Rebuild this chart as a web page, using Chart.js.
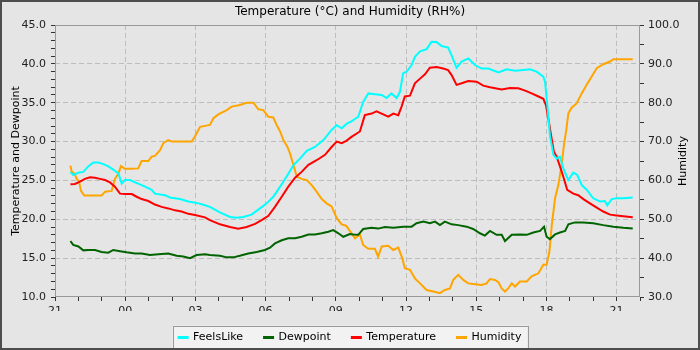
<!DOCTYPE html>
<html>
<head>
<meta charset="utf-8">
<title>Temperature and Humidity</title>
<script src="https://cdn.jsdelivr.net/npm/chart.js@4.4.1/dist/chart.umd.min.js"></script>
<style>
    body { margin: 0; background: #e5e5e5; }
    #wrap { position: relative; width: 700px; height: 350px; overflow: hidden; background: #e5e5e5; }
    #wrap canvas { position: absolute; left: 0; top: 0; }
    #frame { position: absolute; left: 0; top: 0; width: 700px; height: 350px; box-sizing: border-box; border: 2px solid #4d4d4d; pointer-events: none; }
</style>
</head>
<body>
<div id="wrap">
    <canvas id="chart" width="700" height="353"></canvas>
    <div id="frame"></div>
</div>
<script>
// hours counted from 21:00 on the first day
const xTickLabels = ["21", "00", "03", "06", "09", "12", "15", "18", "21"];

const feelsHours = [0.66, 0.78, 1.0, 1.21, 1.42, 1.64, 1.85, 2.07, 2.28, 2.49, 2.71, 2.85, 2.99, 3.21, 3.42, 3.63, 3.85, 4.13, 4.27, 4.7, 4.91, 5.34, 5.7, 6.13, 6.41,
    6.62, 7.05, 7.48, 7.76, 8.05, 8.4, 8.76, 9.05, 9.33, 9.6, 9.9, 10.2, 10.47, 10.76, 11.11, 11.47, 11.82, 12.04, 12.25, 12.47,
    12.67, 12.96, 13.17, 13.39, 13.67, 13.96, 14.17, 14.38, 14.6, 14.74, 14.88, 15.03, 15.24, 15.38, 15.6, 15.88, 16.09, 16.31, 16.52, 16.8, 16.95, 17.16, 17.38, 17.66, 17.95, 18.23, 18.52,
    18.95, 19.3, 19.66, 20.01, 20.3, 20.58, 20.87, 20.94, 21.04, 21.15, 21.3, 21.44, 21.58, 21.72, 21.94, 22.15, 22.32, 22.51, 22.72, 23.0, 23.29, 23.5, 23.6, 23.79, 24.0, 24.29, 24.69];
const feelsValues = [26.1, 25.7, 26.0, 26.1, 26.8, 27.3, 27.3, 27.1, 26.8, 26.4, 25.9, 24.6, 25.05, 25.05, 24.75, 24.5, 24.2, 23.8, 23.3, 23.1, 22.8, 22.6, 22.3, 22.05, 21.8,
    21.6, 20.9, 20.3, 20.2, 20.3, 20.6, 21.4, 22.05, 22.9, 24.1, 25.5, 27.0, 27.8, 28.8, 29.3, 30.2, 31.5, 32.1, 31.7, 32.3,
    32.6, 33.2, 35.1, 36.2, 36.1, 36.0, 35.6, 36.2, 35.6, 36.4, 38.8, 39.0, 39.85, 40.9, 41.6, 41.9, 42.85, 42.8, 42.3, 42.1, 41.1, 39.5, 40.3, 40.7, 39.85, 39.4, 39.4,
    38.9, 39.3, 39.1, 39.2, 39.3, 39.0, 38.35, 37.7, 34.7, 30.8, 28.3, 27.8, 28.05, 26.55, 25.05, 26.0, 25.7, 24.4, 23.8, 22.7, 22.3, 22.35, 21.8, 22.6, 22.7, 22.7, 22.8];

const dewHours = [0.66, 0.78, 1.0, 1.21, 1.42, 1.71, 1.99, 2.28, 2.49, 2.78, 3.06, 3.42, 3.7, 4.06, 4.42, 4.84, 5.2, 5.48, 5.77, 6.05, 6.41,
    6.62, 7.05, 7.34, 7.62, 7.9, 8.26, 8.62, 8.97, 9.19, 9.4, 9.69, 9.97, 10.26, 10.54, 10.83, 11.11, 11.4, 11.68, 11.89, 12.11, 12.32, 12.6,
    12.75, 12.96, 13.17, 13.53, 13.81, 14.1, 14.46, 14.88, 15.24, 15.45, 15.74, 16.02, 16.24, 16.45, 16.66, 16.95, 17.23, 17.59, 17.87, 18.16, 18.37, 18.59,
    18.87, 19.09, 19.23, 19.52, 19.87, 20.16, 20.44, 20.73, 20.9, 21.01, 21.15, 21.37, 21.58, 21.8, 21.94, 22.22, 22.58, 23.0, 23.43, 23.86, 24.29, 24.69];
const dewValues = [17.2, 16.7, 16.5, 16.0, 16.05, 16.05, 15.8, 15.7, 16.05, 15.9, 15.75, 15.6, 15.6, 15.4, 15.5, 15.6, 15.3, 15.2, 15.0, 15.4, 15.5,
    15.4, 15.3, 15.1, 15.1, 15.3, 15.6, 15.8, 16.05, 16.35, 16.9, 17.3, 17.55, 17.55, 17.75, 18.05, 18.05, 18.2, 18.4, 18.6, 18.2, 17.75, 18.1,
    18.05, 18.0, 18.75, 18.9, 18.8, 19.0, 18.9, 19.05, 19.05, 19.5, 19.7, 19.5, 19.7, 19.25, 19.7, 19.35, 19.25, 19.05, 18.75, 18.2, 17.9, 18.5,
    18.0, 18.0, 17.2, 18.0, 18.05, 18.0, 18.3, 18.5, 19.05, 17.75, 17.45, 18.05, 18.3, 18.5, 19.35, 19.6, 19.6, 19.5, 19.25, 19.05, 18.9, 18.8];

const tempHours = [0.66, 0.85, 1.07, 1.28, 1.5, 1.71, 1.92, 2.14, 2.35, 2.56, 2.78, 2.99, 3.28, 3.49, 3.7, 3.99, 4.27, 4.56, 4.84, 5.13, 5.41, 5.7, 5.98, 6.41,
    6.62, 7.05, 7.48, 7.83, 8.19, 8.55, 8.83, 9.12, 9.4, 9.69, 9.97, 10.26, 10.54, 10.83, 11.18, 11.54, 11.82, 12.04, 12.25, 12.45,
    12.67, 13.03, 13.24, 13.53, 13.74, 14.03, 14.24, 14.46, 14.67, 14.81, 14.95, 15.17, 15.38, 15.6, 15.81, 16.02, 16.31, 16.59, 16.8, 16.95, 17.16, 17.38, 17.66, 18.02, 18.3, 18.59,
    19.09, 19.44, 19.8, 20.09, 20.37, 20.66, 20.87, 20.98, 21.08, 21.2, 21.32, 21.44, 21.58, 21.72, 21.89, 22.15, 22.36, 22.58, 22.86, 23.15, 23.43, 23.72, 24.0, 24.29, 24.69];
const tempValues = [24.5, 24.55, 24.85, 25.2, 25.4, 25.35, 25.2, 25.05, 24.75, 24.2, 23.3, 23.25, 23.25, 22.9, 22.6, 22.35, 21.9, 21.6, 21.4, 21.15, 21.0, 20.7, 20.55, 20.25,
    19.9, 19.35, 19.0, 18.8, 19.0, 19.4, 19.9, 20.45, 21.6, 22.9, 24.2, 25.35, 26.1, 27.0, 27.6, 28.3, 29.3, 30.0, 29.8, 30.1,
    30.6, 31.3, 33.4, 33.6, 33.9, 33.5, 33.2, 33.6, 33.4, 34.5, 35.8, 35.9, 37.5, 38.1, 38.65, 39.5, 39.6, 39.4, 39.2, 38.55, 37.3, 37.5, 37.8, 37.7, 37.2, 37.0,
    36.7, 36.9, 36.85, 36.55, 36.2, 35.8, 35.5, 34.7, 33.0, 30.8, 28.7, 28.05, 26.8, 25.5, 23.8, 23.3, 23.1, 22.6, 22.05, 21.5, 21.0, 20.6, 20.5, 20.4, 20.25];

const humHours = [0.66, 0.71, 0.83, 0.93, 1.03, 1.11, 1.25, 1.57, 1.99, 2.14, 2.42, 2.56, 2.71, 2.82, 2.99, 3.28, 3.56, 3.7, 3.99, 4.13, 4.27, 4.49, 4.63, 4.84, 4.99, 5.41, 5.84, 5.98, 6.2,
    6.62, 6.77, 6.98, 7.34, 7.55, 7.9, 8.19, 8.48, 8.69, 8.9, 9.12, 9.33, 9.47, 9.62, 9.76, 9.93, 10.04, 10.19, 10.33, 10.54, 10.76, 10.97, 11.18, 11.4, 11.61, 11.82, 12.04, 12.25, 12.45,
    12.82, 13.03, 13.17, 13.39, 13.67, 13.81, 13.96, 14.24, 14.46, 14.67, 14.84, 14.95, 15.17, 15.38, 15.6, 15.88, 16.17, 16.45, 16.66, 16.88, 17.02, 17.23, 17.45, 17.66, 17.95, 18.23, 18.44, 18.59,
    18.8, 18.95, 19.09, 19.23, 19.37, 19.52, 19.66, 19.87, 20.16, 20.37, 20.66, 20.87, 21.01, 21.13, 21.23, 21.37, 21.51, 21.65, 21.75, 21.84, 21.94, 22.08, 22.29, 22.51, 22.72, 22.93, 23.15, 23.43, 23.72, 23.86, 24.29, 24.69];
const humValues = [63.8, 62.3, 61.8, 60.4, 59.7, 57.3, 56.1, 56.1, 56.1, 57.1, 57.3, 60.4, 61.8, 63.7, 63.0, 63.0, 63.1, 65.0, 65.0, 66.1, 66.3, 67.8, 69.6, 70.4, 70.0, 70.0, 70.0, 71.3, 73.8,
    74.3, 76.0, 77.0, 78.1, 79.0, 79.4, 80.0, 80.0, 78.3, 78.1, 76.4, 76.2, 74.3, 72.6, 70.4, 68.7, 67.0, 64.0, 61.0, 60.4, 60.1, 58.8, 57.1, 55.2, 54.1, 53.3, 50.3, 48.7, 48.3,
    45.1, 46.1, 43.4, 42.4, 42.4, 40.4, 43.0, 43.2, 42.1, 42.7, 40.0, 37.4, 37.0, 34.8, 33.5, 31.8, 31.4, 31.0, 31.8, 32.2, 34.4, 35.7, 34.4, 33.5, 33.3, 33.1, 33.5, 34.6,
    34.4, 33.8, 32.2, 31.4, 32.2, 33.5, 32.7, 34.0, 34.0, 35.3, 36.1, 38.3, 38.3, 41.7, 48.5, 55.4, 58.8, 64.0, 69.1, 72.6, 77.3, 78.7, 79.8, 82.4, 84.6, 86.7, 88.9, 89.9, 90.6, 91.2, 91.2, 91.2];

const FONT = "'DejaVu Sans', sans-serif";
const GRID = "#bdbdbd";

function toPoints(hours, values) {
    return hours.map((h, i) => ({ x: h, y: values[i] }));
}

// light box with border behind the legend items
const legendBox = {
    id: "legendBox",
    beforeDraw(chart) {
        const boxes = chart.legend.legendHitBoxes;
        if (!boxes || !boxes.length) return;
        const left = Math.min(...boxes.map(b => b.left)) - 6;
        const right = Math.max(...boxes.map(b => b.left + b.width)) + 6;
        const mid = boxes[0].top + boxes[0].height / 2;
        const ctx = chart.ctx;
        ctx.save();
        ctx.fillStyle = "#f2f2f2";
        ctx.strokeStyle = "#9a9a9a";
        ctx.lineWidth = 1;
        ctx.fillRect(left, mid - 12, right - left, 24);
        ctx.strokeRect(Math.round(left) + 0.5, Math.round(mid - 12) + 0.5, Math.round(right - left), 24);
        ctx.restore();
    }
};

// box round the plot area + right axis title read bottom to top
const plotFrame = {
    id: "plotFrame",
    beforeDatasetsDraw(chart) {
        const a = chart.chartArea;
        const ctx = chart.ctx;
        ctx.save();
        ctx.strokeStyle = "#9a9a9a";
        ctx.lineWidth = 1;
        ctx.strokeRect(Math.round(a.left) + 0.5, Math.round(a.top) + 0.5, Math.round(a.width) - 1, Math.round(a.height) - 1);
        ctx.restore();
    },
    afterDraw(chart) {
        const a = chart.chartArea;
        const ctx = chart.ctx;
        ctx.save();
        ctx.translate(683, (a.top + a.bottom) / 2);
        ctx.rotate(-Math.PI / 2);
        ctx.fillStyle = "#000";
        ctx.font = "11px " + FONT;
        ctx.textAlign = "center";
        ctx.textBaseline = "middle";
        ctx.fillText("Humidity", 0, 0);
        ctx.restore();
    }
};

const lineStyle = { borderWidth: 2, pointRadius: 0, tension: 0, fill: false };

new Chart(document.getElementById("chart"), {
    type: "line",
    data: {
        datasets: [
            { label: "FeelsLike", data: toPoints(feelsHours, feelsValues), borderColor: "#00ffff", backgroundColor: "#00ffff", yAxisID: "y", ...lineStyle },
            { label: "Dewpoint", data: toPoints(dewHours, dewValues), borderColor: "#006400", backgroundColor: "#006400", yAxisID: "y", ...lineStyle },
            { label: "Temperature", data: toPoints(tempHours, tempValues), borderColor: "#ff0000", backgroundColor: "#ff0000", yAxisID: "y", ...lineStyle },
            { label: "Humidity", data: toPoints(humHours, humValues), borderColor: "#ffa500", backgroundColor: "#ffa500", yAxisID: "y1", ...lineStyle }
        ]
    },
    options: {
        responsive: false,
        animation: false,
        layout: { padding: 0 },
        plugins: {
            title: {
                display: true,
                text: "Temperature (°C) and Humidity (RH%)",
                color: "#000",
                font: { family: FONT, size: 12, weight: "normal" },
                padding: { top: 5, bottom: 5.6 }
            },
            legend: {
                position: "bottom",
                labels: {
                    color: "#000",
                    font: { family: FONT, size: 11 },
                    boxWidth: 9,
                    boxHeight: 1,
                    padding: 21
                }
            },
            tooltip: { enabled: false }
        },
        scales: {
            x: {
                type: "linear",
                min: 0,
                max: 25,
                afterFit: s => { s.height = 14; },
                ticks: {
                    stepSize: 1,
                    autoSkip: false,
                    maxRotation: 0,
                    padding: 4,
                    color: "#222",
                    font: { family: FONT, size: 11 },
                    callback: v => v % 3 === 0 ? xTickLabels[v / 3] : ""
                },
                grid: {
                    color: c => (c.tick.value % 3 === 0 && c.tick.value > 0 && c.tick.value < 25) ? GRID : "rgba(0,0,0,0)",
                    tickColor: "#333",
                    tickLength: 4
                },
                border: { display: false, dash: [5, 3] }
            },
            y: {
                position: "left",
                min: 10,
                max: 45,
                afterFit: s => { s.width = 55; },
                ticks: {
                    stepSize: 1,
                    autoSkip: false,
                    padding: 5,
                    color: "#222",
                    font: { family: FONT, size: 11 },
                    callback: v => v % 5 === 0 ? v.toFixed(1) : ""
                },
                grid: {
                    color: c => (c.tick.value % 5 === 0 && c.tick.value > 10 && c.tick.value < 45) ? GRID : "rgba(0,0,0,0)",
                    tickColor: "#333",
                    tickLength: 4
                },
                border: { display: false, dash: [5, 3] },
                title: {
                    display: true,
                    text: "Temperature and Dewpoint",
                    color: "#000",
                    font: { family: FONT, size: 11 },
                    padding: { top: 10, bottom: 0 }
                }
            },
            y1: {
                position: "right",
                min: 30,
                max: 100,
                afterFit: s => { s.width = 60; },
                ticks: {
                    stepSize: 5,
                    autoSkip: false,
                    padding: 4,
                    color: "#222",
                    font: { family: FONT, size: 11 },
                    callback: v => v % 10 === 0 ? v.toFixed(1) : ""
                },
                grid: {
                    drawOnChartArea: false,
                    tickColor: "#333",
                    tickLength: 4
                },
                border: { display: false }
            }
        }
    },
    plugins: [legendBox, plotFrame]
});
</script>
</body>
</html>
